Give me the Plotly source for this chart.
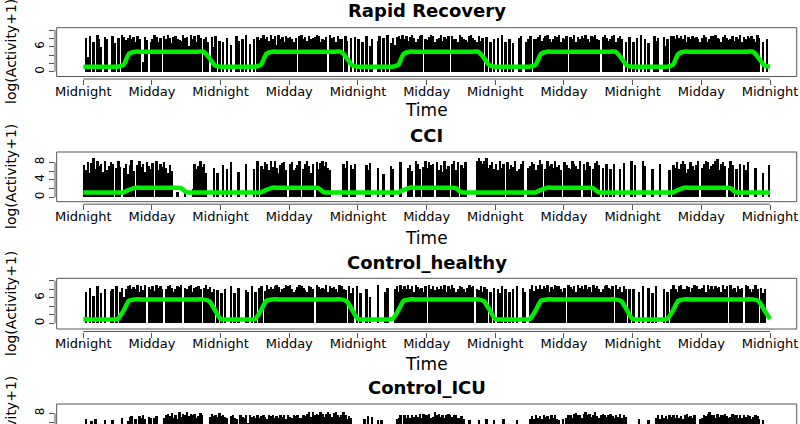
import numpy as np
import plotly.graph_objects as go

panel_titles = ["Rapid Recovery", "CCI", "Control_healthy", "Control_ICU"]
tick_hours = [0, 12, 24, 36, 48, 60, 72, 84, 96, 108, 120]
tick_labels = ["Midnight", "Midday"] * 5 + ["Midnight"]

# activity, log(Activity+1), one value per 20 minutes, one list per day
rr_day1 = [0,8.1,3.5, 8.7,0,7.2, 0,8.9,7.8, 6.1,0,8.4, 7.9,0,0, 8.6,7.0,0, 8.2,0,8.8, 8.5,7.6,8.1, 8.9,7.9,8.4, 7.2,8.6,8.0, 0,2.4,8.3, 7.7,0,7.1,
           8.0,8.8,8.5, 7.3,8.2,0, 8.6,7.8,8.9, 8.1,7.0,8.5, 8.7,8.0,7.6, 7.4,8.8,8.2, 8.4,6.2,8.9, 7.9,8.6,7.3, 8.8,8.1,0, 8.0,8.5,7.2, 0,8.3,6.0, 8.6,0,7.4]
rr_day2 = [0,7.3,0, 8.2,0,6.4, 0,0,8.7, 7.5,0,8.0, 0,8.9,0, 6.6,0,7.9, 0,8.4,7.7, 8.1,8.8,7.9, 8.5,7.4,8.9, 8.0,8.6,6.5, 8.8,7.8,8.3, 7.2,8.7,8.1,
           8.4,7.9,7.3, 8.2,0,8.6, 8.9,8.0,8.5, 7.5,8.7,7.8, 8.1,8.5,8.9, 8.6,7.2,8.0, 7.7,8.4,0, 8.8,8.1,8.5, 7.3,8.6,7.9, 8.0,0,8.7, 7.4,0,8.2, 0,8.5,0]
rr_day3 = [8.0,0,7.1, 0,8.7,0, 6.3,7.9,0, 0,7.4,8.6, 0,8.2,0, 8.8,0,7.0, 8.1,6.5,8.5, 8.6,7.8,8.9, 8.0,8.7,7.5, 8.4,8.9,8.1, 7.2,8.0,8.6, 8.8,0,7.9,
           7.7,8.5,8.9, 8.6,7.3,8.0, 8.1,8.8,7.4, 8.5,7.9,8.7, 0,8.6,8.0, 7.8,7.1,8.8, 8.4,8.0,7.6, 7.3,8.6,8.9, 8.2,7.7,7.2, 8.7,7.4,8.1, 0,8.5,0, 7.2,0,8.0]
rr_day4 = [0,8.1,0, 8.8,0,7.3, 0,7.9,0, 7.0,0,0, 8.2,8.7,0, 0,7.1,8.0, 8.6,0,7.8, 8.0,8.5,8.9, 7.4,8.1,8.6, 8.8,7.9,7.2, 8.0,8.7,8.4, 8.9,7.3,8.1,
           7.8,8.6,0, 8.4,8.0,8.8, 7.2,8.5,7.9, 8.7,8.2,8.9, 8.0,7.1,8.6, 8.5,8.9,8.0, 7.7,0,8.4, 8.8,8.1,7.4, 8.0,8.6,8.9, 7.3,8.2,8.7, 8.0,0,7.2, 0,8.3,0]
rr_day5 = [7.2,0,8.1, 0,8.8,0, 7.9,0,7.0, 0,0,8.6, 7.4,8.2,0, 0,8.5,6.2, 8.0,0,8.7, 8.6,8.0,8.9, 8.1,8.7,7.8, 8.8,7.3,8.4, 7.9,8.6,8.2, 8.5,8.0,7.2,
           8.1,8.9,8.4, 7.3,8.0,8.7, 8.6,8.9,8.1, 7.8,7.1,8.5, 8.8,8.2,7.7, 8.0,8.6,7.4, 8.4,7.9,8.9, 7.2,8.5,8.0, 8.7,8.1,8.6, 8.0,7.3,8.8, 8.2,0,7.1, 0,8.0,0]

cci_day1 = [7.4,6.2,8.1, 5.6,7.8,8.9, 6.5,8.3,7.1, 7.6,5.8,8.4, 6.3,7.2,8.0, 7.5,0,6.8, 8.2,7.0,0, 6.6,7.7,5.4, 7.3,8.5,6.1, 0,7.4,8.2, 6.9,7.6,5.7, 8.0,7.2,6.4,
            7.8,0,8.3, 6.2,7.5,7.0, 8.1,6.6,5.5, 7.3,6.0,0, 0,1.2,0, 0,0,1.5, 0,0,0, 1.8,7.6,6.4, 7.2,8.4,6.9, 7.7,5.6,0, 0,0,6.8, 0,5.5,0]
cci_day2 = [0,7.3,0, 6.4,0,8.1, 0,0,0, 5.7,0,0, 0,7.6,0, 0,0,6.5, 0,8.3,0, 7.1,6.5,8.0, 7.7,6.2,8.4, 7.0,8.2,6.6, 5.5,7.4,7.9, 8.1,6.3,0,
            7.5,8.0,6.2, 6.8,7.3,8.2, 0,6.4,7.7, 8.3,7.1,5.6, 7.6,0,8.0, 6.5,7.8,8.3, 7.2,8.1,6.7, 6.3,0,0, 0,0,0, 0,7.5,6.6, 8.2,0,7.3, 6.4,7.7,0]
cci_day3 = [0,0,0, 0,7.4,6.3, 7.8,0,0, 0,6.6,0, 0,5.4,0, 0,0,7.2, 6.5,0,0, 0,8.0,0, 0,0,6.7, 7.3,6.1,0, 8.2,7.5,6.4, 0,7.0,8.3,
            6.6,8.1,7.4, 7.7,0,8.0, 6.2,7.3,5.8, 8.4,6.5,7.1, 0,7.6,8.2, 6.3,8.0,0, 7.4,6.6,8.1, 0,0,0, 0,0,8.3, 8.9,8.2,7.5, 8.4,9.0,6.8, 7.3,8.1,6.5]
cci_day4 = [7.5,6.2,8.3, 6.6,7.7,0, 8.1,6.4,7.3, 7.0,8.4,6.1, 6.5,7.6,8.2, 0,0,6.7, 7.2,8.0,7.6, 6.3,7.4,8.5, 7.7,0,6.4, 8.2,7.1,7.5, 6.6,8.3,7.0, 7.4,6.2,0,
            8.0,7.3,6.6, 6.4,8.2,7.5, 7.1,6.5,8.4, 0,7.6,6.3, 8.1,7.2,0, 6.5,7.8,8.3, 7.3,0,6.6, 0,7.5,0, 6.4,0,7.7, 0,0,6.5, 0,7.9,0, 0,0,8.2]
cci_day5 = [0,7.4,0, 0,0,8.3, 7.1,0,0, 0,6.5,0, 0,0,7.6, 0,0,0, 0,6.2,0, 7.3,6.6,8.0, 6.4,7.5,8.2, 7.7,5.6,6.5, 8.1,7.2,6.3, 7.4,8.4,0,
            6.6,7.7,8.3, 8.0,6.4,7.2, 7.5,8.2,8.8, 6.3,7.6,8.1, 7.2,0,6.6, 8.3,7.4,0, 6.5,0,7.7, 0,7.3,6.2, 8.0,0,0, 0,6.6,0, 0,0,5.5, 0,0,7.4]

hl_day1 = [0,7.2,0, 8.1,0,6.3, 0,8.7,0, 7.0,0,7.9, 0,0,7.4, 8.0,0,8.6, 0,7.3,8.1, 6.2,8.0,8.7, 8.9,7.9,8.5, 8.0,8.8,7.3, 8.6,7.8,8.9, 0,8.5,8.0,
           8.7,7.4,8.8, 8.1,8.6,7.9, 0,8.0,8.7, 8.9,8.2,7.2, 8.0,8.7,8.4, 8.8,0,8.1, 7.9,8.6,8.9, 7.2,8.1,8.5, 8.7,8.0,0, 8.1,8.8,7.9, 8.5,7.3,8.0, 0,7.8,0]
hl_day2 = [7.1,0,8.0, 0,0,8.6, 0,7.0,0, 8.1,0,0, 0,7.8,7.2, 0,8.7,0, 7.3,0,8.2, 8.6,0,7.4, 8.8,8.0,8.5, 7.9,8.7,8.9, 8.4,7.2,8.0, 8.1,8.8,8.6,
           8.9,8.0,7.3, 7.8,8.5,8.9, 8.6,8.1,7.7, 7.2,8.7,8.4, 8.0,0,8.8, 8.5,7.9,8.2, 8.0,8.9,7.3, 8.7,8.1,8.5, 7.9,7.2,8.8, 8.6,8.0,7.8, 0,8.7,7.1, 8.2,0,8.6]
hl_day3 = [0,7.1,0, 0,8.0,0, 6.2,0,0, 0,8.8,0, 0,0,7.3, 8.1,0,0, 0,8.0,8.7, 7.3,8.8,8.0, 8.7,7.9,8.9, 8.0,8.6,7.2, 8.8,8.5,7.9, 8.1,7.3,8.7,
           0,8.9,8.0, 8.6,7.8,8.5, 8.0,8.7,7.9, 8.8,7.2,8.6, 7.9,8.9,8.1, 7.3,8.0,8.7, 8.5,7.9,7.2, 8.1,8.8,8.4, 8.7,0,8.0, 7.8,8.6,7.3, 8.5,8.0,0, 7.2,0,8.1]
hl_day4 = [0,8.0,7.1, 8.7,0,7.9, 0,7.2,0, 8.0,0,8.6, 0,0,8.1, 7.3,0,0, 8.0,8.8,7.4, 8.6,8.0,8.9, 7.9,8.7,8.1, 8.8,7.3,8.5, 8.0,8.9,8.6, 8.7,7.9,7.2,
           8.1,0,8.8, 8.5,8.0,8.7, 7.3,8.8,8.1, 8.6,7.9,8.9, 8.0,8.5,7.3, 8.8,8.1,8.6, 7.9,7.2,8.0, 8.7,8.9,8.1, 8.0,8.6,0, 8.9,8.0,8.5, 7.2,8.7,8.0, 0,7.9,0]
hl_day5 = [8.0,0,0, 7.2,0,8.7, 0,0,8.1, 0,7.0,0, 8.6,0,0, 0,7.9,0, 7.3,0,8.0, 8.8,8.0,7.3, 8.6,8.9,8.0, 7.9,8.7,8.5, 7.2,8.1,8.8, 8.7,8.0,7.9,
           8.1,8.8,7.3, 8.9,8.0,8.6, 8.0,8.7,8.1, 8.5,7.2,8.9, 8.0,8.6,0, 8.8,7.9,8.2, 7.3,8.7,8.0, 8.1,0,8.9, 8.6,8.0,7.2, 7.9,8.8,8.0, 0,8.2,7.1, 8.0,0,0]

icu_day1 = [3.0,6.6,2.1, 0,6.3,4.0, 6.8,0,3.2, 2.5,0,6.4, 0,3.1,0, 6.5,0,2.2, 0,4.1,6.9, 3.3,0,6.2, 7.1,7.4,5.0, 6.8,4.2,7.3, 7.0,7.5,6.6, 4.4,7.2,6.9,
            5.2,7.0,7.4, 3.1,4.2,2.0, 6.9,7.6,7.8, 7.4,8.1,7.0, 7.7,6.8,8.3, 7.1,7.9,7.5, 8.2,7.3,7.8, 7.6,7.9,7.0, 7.3,8.1,7.6, 4.5,2.3,3.0, 7.2,7.8,7.4, 7.7,7.1,8.0]
icu_day2 = [7.3,7.6,7.1, 6.9,5.5,7.4, 7.5,7.0,6.8, 4.6,7.6,7.2, 7.0,7.5,5.8, 7.6,7.1,7.4, 7.0,7.7,6.9, 7.4,7.6,7.1, 6.8,7.5,7.3, 7.6,7.0,7.4, 6.9,7.7,7.2, 7.5,6.8,7.6,
            7.1,6.9,7.7, 7.4,7.6,7.0, 6.9,7.5,7.3, 7.8,8.3,7.2, 8.4,7.7,7.9, 7.6,8.2,7.8, 7.2,7.9,8.4, 7.8,7.1,8.0, 8.3,7.6,7.2, 7.7,8.2,7.5, 6.8,7.4,6.9, 4.2,3.1,2.4]
icu_day3 = [2.2,3.0,0, 6.7,4.1,7.4, 3.2,7.1,2.0, 0,6.4,0, 6.5,0,2.3, 3.4,0,4.2, 0,2.6,6.6, 6.9,7.5,5.4, 7.6,7.0,7.7, 6.9,7.6,7.1, 7.7,7.2,7.9, 7.0,7.8,7.5,
            7.6,7.9,7.0, 7.2,8.2,7.6, 7.8,7.1,7.7, 7.0,7.6,7.8, 7.7,7.1,7.5, 7.6,6.9,7.0, 7.3,6.6,3.0, 2.1,6.5,3.3, 0,2.4,0, 6.4,3.0,0, 2.2,6.7,4.0, 3.1,0,6.5]
icu_day4 = [2.0,3.3,0, 4.1,6.6,2.2, 0,3.4,0, 2.3,0,6.4, 3.2,2.1,0, 0,4.3,2.0, 6.8,7.4,6.6, 7.5,6.9,7.3, 6.6,7.6,7.2, 7.4,6.7,7.5, 6.9,7.7,6.8, 6.5,3.1,6.7,
            4.2,6.9,7.5, 7.6,7.0,7.8, 8.1,7.5,7.7, 7.0,7.8,8.2, 7.6,7.9,7.1, 7.7,8.2,7.4, 7.0,7.6,7.9, 7.5,7.1,7.7, 7.8,7.4,7.0, 7.6,7.1,7.8, 6.9,7.5,7.2, 5.0,3.2,2.1]
icu_day5 = [2.2,0,3.1, 6.7,2.0,0, 3.3,0,6.5, 0,2.4,3.0, 6.9,7.5,6.7, 7.6,7.0,7.4, 6.8,7.7,7.2, 7.5,6.9,7.6, 7.0,7.4,6.8, 7.6,7.8,7.1, 7.4,6.9,7.7, 5.1,3.0,6.6,
            6.9,7.6,7.4, 7.8,8.2,7.5, 7.6,7.0,7.9, 7.1,7.7,7.5, 7.8,7.4,7.0, 7.2,7.9,7.6, 7.7,7.0,7.5, 6.9,7.6,7.1, 7.7,7.4,6.8, 7.1,7.6,7.3, 6.6,2.0,6.4, 3.0,0,2.2]

# fitted rest-activity curve, hourly
rr_fit = [1.2,1.2,1.2,1.2,1.2,1.2,1.2,1.6,4.3,4.8,4.8,4.8,4.8,4.8,4.8,4.8,4.8,4.8,4.8,4.8,4.8,4.8,3.3,1.5,
          1.2,1.2,1.2,1.2,1.2,1.2,1.2,1.6,4.3,4.8,4.8,4.8,4.8,4.8,4.8,4.8,4.8,4.8,4.8,4.8,4.8,4.8,3.3,1.5,
          1.2,1.2,1.2,1.2,1.2,1.2,1.2,1.6,4.3,4.8,4.8,4.8,4.8,4.8,4.8,4.8,4.8,4.8,4.8,4.8,4.8,4.8,3.3,1.5,
          1.2,1.2,1.2,1.2,1.2,1.2,1.2,1.6,4.3,4.8,4.8,4.8,4.8,4.8,4.8,4.8,4.8,4.8,4.8,4.8,4.8,4.8,3.3,1.5,
          1.2,1.2,1.2,1.2,1.2,1.2,1.2,1.6,4.3,4.8,4.8,4.8,4.8,4.8,4.8,4.8,4.8,4.8,4.8,4.8,4.8,4.8,3.3,1.5,
          1.2]
cci_fit = [1.1,1.1,1.1,1.1,1.1,1.1,1.1,1.1,1.7,2.2,2.2,2.2,2.2,2.2,2.2,2.2,2.2,2.15,1.2,1.1,1.1,1.1,1.1,1.1,
           1.1,1.1,1.1,1.1,1.1,1.1,1.1,1.1,1.7,2.2,2.2,2.2,2.2,2.2,2.2,2.2,2.2,2.15,1.2,1.1,1.1,1.1,1.1,1.1,
           1.1,1.1,1.1,1.1,1.1,1.1,1.1,1.1,1.7,2.2,2.2,2.2,2.2,2.2,2.2,2.2,2.2,2.15,1.2,1.1,1.1,1.1,1.1,1.1,
           1.1,1.1,1.1,1.1,1.1,1.1,1.1,1.1,1.7,2.2,2.2,2.2,2.2,2.2,2.2,2.2,2.2,2.15,1.2,1.1,1.1,1.1,1.1,1.1,
           1.1,1.1,1.1,1.1,1.1,1.1,1.1,1.1,1.7,2.2,2.2,2.2,2.2,2.2,2.2,2.2,2.2,2.15,1.2,1.1,1.1,1.1,1.1,1.1,
           1.1]
hl_fit = [1.0,0.9,0.9,0.9,0.9,0.9,1.0,2.9,5.3,5.6,5.6,5.6,5.6,5.6,5.6,5.6,5.6,5.6,5.6,5.6,5.6,5.6,5.2,3.1,
          1.0,0.9,0.9,0.9,0.9,0.9,1.0,2.9,5.3,5.6,5.6,5.6,5.6,5.6,5.6,5.6,5.6,5.6,5.6,5.6,5.6,5.6,5.2,3.1,
          1.0,0.9,0.9,0.9,0.9,0.9,1.0,2.9,5.3,5.6,5.6,5.6,5.6,5.6,5.6,5.6,5.6,5.6,5.6,5.6,5.6,5.6,5.2,3.1,
          1.0,0.9,0.9,0.9,0.9,0.9,1.0,2.9,5.3,5.6,5.6,5.6,5.6,5.6,5.6,5.6,5.6,5.6,5.6,5.6,5.6,5.6,5.2,3.1,
          1.0,0.9,0.9,0.9,0.9,0.9,1.0,2.9,5.3,5.6,5.6,5.6,5.6,5.6,5.6,5.6,5.6,5.6,5.6,5.6,5.6,5.6,5.2,3.1,
          1.0]

activity = [
    rr_day1 + rr_day2 + rr_day3 + rr_day4 + rr_day5,
    cci_day1 + cci_day2 + cci_day3 + cci_day4 + cci_day5,
    hl_day1 + hl_day2 + hl_day3 + hl_day4 + hl_day5,
    icu_day1 + icu_day2 + icu_day3 + icu_day4 + icu_day5,
]
fits = [rr_fit, cci_fit, hl_fit, None]

W, H = 800, 424
FONT = "DejaVu Sans"
GREY = "#555555"

# pixel layout of the four R panels
X0_PX, PX_PER_H = 83.3, 5.7225
AX_L, BOX_L, BOX_R = 55.0, 56.7, 796.7
panels = [
    dict(top=27.7, bottom=76.5, axis=79.0, zero=71.7, ppu=4.17, ticks=[0, 2, 4, 6, 8, 10], shown=[0, 6],
         title_y=11, time_y=110, ylab_y=52),
    dict(top=152.0, bottom=201.7, axis=204.2, zero=197.3, ppu=4.375, ticks=[0, 2, 4, 6, 8], shown=[0, 4, 8],
         title_y=136, time_y=238, ylab_y=177),
    dict(top=278.3, bottom=329.0, axis=331.5, zero=323.3, ppu=4.27, ticks=[0, 2, 4, 6, 8, 10], shown=[0, 6],
         title_y=262, time_y=364, ylab_y=304),
    dict(top=404.0, bottom=520.0, axis=424.0, zero=448.3, ppu=4.375, ticks=[0, 2, 4, 6, 8], shown=[0, 4, 8],
         title_y=387, time_y=None, ylab_y=429),
]


def px_y(p):
    return 1 - p / H


fig = go.Figure()
shapes, annotations = [], []
x_range = [(AX_L - X0_PX) / PX_PER_H, (BOX_R - X0_PX) / PX_PER_H]

for i, p in enumerate(panels):
    n = "" if i == 0 else str(i + 1)
    vals = activity[i]
    t = np.arange(len(vals)) / 3 + 1 / 6
    fig.add_trace(go.Bar(x=t, y=vals, width=1 / 3, marker=dict(color="black", line=dict(width=0)),
                         xaxis="x" + n, yaxis="y" + n, hoverinfo="skip"))
    if fits[i] is not None:
        fig.add_trace(go.Scatter(x=np.arange(len(fits[i])), y=fits[i], mode="lines",
                                 line=dict(color="#00EE00", width=4.5, shape="spline", smoothing=0.7),
                                 xaxis="x" + n, yaxis="y" + n, hoverinfo="skip"))

    fig.update_layout({
        "xaxis" + n: dict(domain=[AX_L / W, BOX_R / W], range=x_range, anchor="y" + n,
                          tickmode="array", tickvals=tick_hours, ticktext=tick_labels, tickangle=0,
                          ticks="outside", ticklen=5, tickcolor=GREY, showline=False, showgrid=False,
                          zeroline=False, automargin=False, visible=i < 3, ticklabelstandoff=-5,
                          tickfont=dict(family=FONT, size=13, color="black")),
        "yaxis" + n: dict(domain=[px_y(p["axis"]), px_y(p["top"])],
                          range=[(p["zero"] - p["axis"]) / p["ppu"], (p["zero"] - p["top"]) / p["ppu"]],
                          anchor="x" + n, tickmode="array", tickvals=p["ticks"],
                          ticktext=[str(v) if v in p["shown"] else "" for v in p["ticks"]],
                          tickangle=-90, ticks="outside", ticklen=5, tickcolor=GREY,
                          showline=False, showgrid=False, zeroline=False, automargin=False,
                          tickfont=dict(family=FONT, size=12, color="black")),
    })

    shapes.append(dict(type="rect", xref="paper", yref="paper", x0=BOX_L / W, x1=BOX_R / W,
                       y0=px_y(p["bottom"]), y1=px_y(p["top"]), line=dict(color=GREY, width=1)))
    shapes.append(dict(type="line", xref="paper", yref="y" + n, x0=AX_L / W, x1=AX_L / W,
                       y0=0, y1=p["ticks"][-1], line=dict(color=GREY, width=1)))
    if i < 3:
        shapes.append(dict(type="line", xref="x" + n, yref="paper", x0=0, x1=120,
                           y0=px_y(p["axis"]), y1=px_y(p["axis"]), line=dict(color=GREY, width=1)))
        annotations.append(dict(text="Time", x=(BOX_L + BOX_R) / 2 / W, y=px_y(p["time_y"]),
                                xref="paper", yref="paper", showarrow=False, xanchor="center",
                                yanchor="middle", font=dict(family=FONT, size=17, color="black")))
    annotations.append(dict(text="<b>" + panel_titles[i] + "</b>", x=(BOX_L + BOX_R) / 2 / W,
                            y=px_y(p["title_y"]), xref="paper", yref="paper", showarrow=False,
                            xanchor="center", yanchor="middle",
                            font=dict(family=FONT, size=18, color="black")))
    annotations.append(dict(text="log(Activity+1)", x=11 / W, y=px_y(p["ylab_y"]), xref="paper",
                            yref="paper", showarrow=False, textangle=-90, xanchor="center",
                            yanchor="middle", font=dict(family=FONT, size=14, color="black")))

fig.update_layout(width=W, height=H, margin=dict(l=0, r=0, t=0, b=0), template="none",
                  paper_bgcolor="white", plot_bgcolor="white", showlegend=False, bargap=0,
                  shapes=shapes, annotations=annotations)
# the page body has a default 8px margin; drop it so the figure fills the window
fig.write_html("out.html", config={"displayModeBar": False},
               post_script="document.body.style.margin='0';document.body.style.overflow='hidden';")
